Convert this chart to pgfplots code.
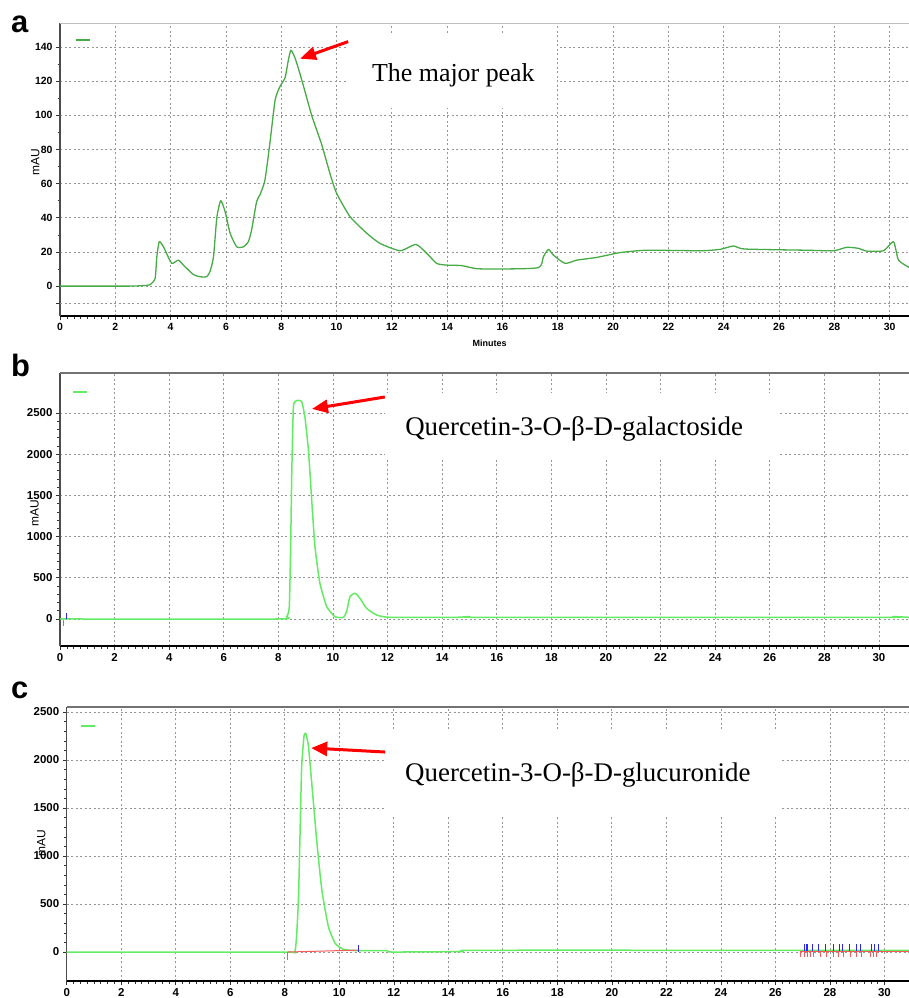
\documentclass[border=0pt]{standalone}
\usepackage{fontspec}
\setmainfont{Liberation Sans}
\newfontfamily\tnr{Liberation Serif}
\usepackage{pgfplots}
\pgfplotsset{compat=1.18}
\usetikzlibrary{arrows.meta}

\definecolor{greenA}{RGB}{70,170,70}
\definecolor{greenB}{RGB}{100,235,100}
\definecolor{gridgray}{RGB}{150,150,150}
\definecolor{intred}{RGB}{245,90,90}
\definecolor{intblue}{RGB}{40,40,245}

\pgfplotsset{
  chrom/.style={
    scale only axis,
    anchor=north west,
    axis x line*=bottom, axis y line*=left,
    x axis line style={black, line width=1.3bp},
    y axis line style={black!70, line width=1.2bp},
    tick align=outside,
    major tick length=4bp, minor tick length=2.5bp,
    every tick/.style={black!80, line width=0.6bp},
    xtick={0,2,...,30}, minor x tick num=7,
    xmin=0,
    grid=major,
    major grid style={gridgray, line width=0.8bp, dash pattern=on 2bp off 2.5bp},
    tick label style={font=\fontsize{10.5}{11}\selectfont\bfseries},
    /pgf/number format/assume math mode=true,
    /pgf/number format/set thousands separator={},
    clip mode=individual,
    legend style={draw=none, fill=none, inner sep=0pt, outer sep=0pt,
                  nodes={inner sep=0pt}, anchor=west},
    legend image code/.code={\draw[#1] (0bp,0bp) -- (14bp,0bp);},
    ylabel style={font=\fontsize{12}{13}\selectfont, anchor=south},
  }
}

\begin{document}
\begin{tikzpicture}
\useasboundingbox (0,0) rectangle (909bp,-998bp);

% ---------------- a ----------------
\begin{axis}[chrom,
  at={(60bp,-23bp)}, width=849bp, height=293bp,
  xmax=30.7, ymin=-17.5, ymax=154,
  ytick={0,20,...,140}, minor y tick num=1,
  extra y ticks={-10}, extra y tick labels={},
  xlabel={Minutes},
  xlabel style={font=\fontsize{9}{10}\selectfont\bfseries,
                at={(axis description cs:0.506,-0.092)}, anchor=center},
  ylabel={mAU},
  ylabel style={at={(axis description cs:-0.02,0.526)}},
  legend style={at={(rel axis cs:0.0177,0.942)}},
]
\addplot[greenA, line width=1.3bp, line join=round, smooth, tension=0.35] coordinates {
(0,0)(2.5,0)(3.0,0.3)(3.25,0.8)(3.44,4.5)(3.50,17)(3.59,26)(3.74,23)
(3.83,20)(4.04,13.3)(4.28,15.2)(4.46,12.3)(4.82,6.8)(5.06,5.5)(5.30,5.5)
(5.42,8.4)(5.55,17)(5.67,40)(5.81,50)(5.97,43.6)(6.15,31)(6.39,23)
(6.63,23)(6.81,26)(6.93,33)(7.11,49.5)(7.23,53.4)(7.41,62)(7.59,83.7)
(7.78,109)(7.96,117)(8.14,122)(8.26,132.5)(8.35,138)(8.50,133.5)
(8.74,120.8)(9.1,100)(9.46,83)(9.76,66)(10.0,54.4)(10.49,40.6)
(11.09,31)(11.57,25)(12.3,20.7)(12.87,24.4)(13.26,19.2)(13.62,13.3)
(13.98,12.3)(14.52,12)(15.07,10.2)(15.91,10)(17.3,10.8)(17.48,17.2)
(17.66,21.5)(17.84,18.2)(18.26,13.3)(18.69,15.2)(19.41,16.8)(20.25,19.6)
(21.22,21)(23.15,20.7)(23.87,21.5)(24.35,23.5)(24.77,21.7)(27.0,21)
(27.97,20.7)(28.45,22.7)(28.87,22.1)(29.17,20.5)(29.78,20.7)(30.14,26)
(30.32,15.2)(30.7,11)
};
\addlegendentry{}
\draw[black!25, line width=0.8bp] (rel axis cs:0,1) -- (rel axis cs:1,1);
\fill[white] (axis cs:10.42,148.4) rectangle (axis cs:17.97,104.4);
\node[anchor=base west, inner sep=0pt, font=\tnr\fontsize{26}{30}\selectfont]
  at (axis cs:11.28,119.6) {The major peak};
\draw[red, line width=3bp, -{Triangle[length=16bp,width=13bp]}]
  (axis cs:10.42,143.1) -- (axis cs:8.68,133.1);
\end{axis}

% ---------------- b ----------------
\begin{axis}[chrom,
  at={(60bp,-373bp)}, width=849bp, height=273bp,
  xmax=31.1, ymin=-328, ymax=2985,
  ytick={0,500,...,2500}, minor y tick num=4,
  tick label style={font=\fontsize{11.5}{12}\selectfont\bfseries},
  ylabel={mAU},
  ylabel style={at={(axis description cs:-0.021,0.487)}},
  legend style={at={(rel axis cs:0.015,0.930)}},
  unbounded coords=jump,
]
\addplot[greenB, line width=1.5bp, line join=round, smooth, tension=0.3] coordinates {
(0,0)(8.0,0)(8.30,28)(8.40,150)(8.45,900)(8.49,1770)(8.55,2577)(8.67,2650)
(8.85,2640)(8.97,2455)(9.10,2050)(9.22,1444)(9.34,877)(9.52,433)
(9.77,150)(10.07,28)(10.38,20)(10.50,90)(10.62,270)(10.81,312)
(10.99,250)(11.23,130)(11.6,48)(12.1,20)(14.5,20)(15.0,30)(15.5,20)
(30.2,20)(30.5,30)(31.1,20)
};
\addlegendentry{}
\addplot[intred, line width=1bp] coordinates {(0.12,-12)(0.12,-85)};
\addplot[intblue, line width=1bp] coordinates {(0.25,0)(0.25,70)};
\draw[black!55, line width=1.6bp] (rel axis cs:0,1) -- (rel axis cs:1,1);
\fill[white] (axis cs:11.9,2743) rectangle (axis cs:26.3,1930);
\node[anchor=base west, inner sep=0pt, font=\tnr\fontsize{27}{30}\selectfont]
  at (axis cs:12.64,2221) {Quercetin-3-O-β-D-galactoside};
\draw[red, line width=3bp, -{Triangle[length=16bp,width=13bp]}]
  (axis cs:11.9,2694) -- (axis cs:9.23,2549);
\end{axis}

% ---------------- c ----------------
\begin{axis}[chrom,
  at={(66.7bp,-707bp)}, width=842.3bp, height=274bp,
  xmax=30.9, ymin=-302, ymax=2552,
  ytick={0,500,...,2500}, minor y tick num=4,
  tick label style={font=\fontsize{11.5}{12}\selectfont\bfseries},
  ylabel={mAU},
  ylabel style={at={(axis description cs:-0.021,0.504)}},
  legend style={at={(rel axis cs:0.016,0.931)}},
  unbounded coords=jump,
]
\addplot[greenB, line width=1.5bp, line join=round, smooth, tension=0.3] coordinates {
(0,0)(7.95,0)(8.38,14)(8.5,540)(8.56,1236)(8.62,1930)(8.71,2260)
(8.78,2270)(8.87,2140)(8.99,1757)(9.17,1167)(9.36,646)(9.60,264)
(9.85,90)(10.15,28)(10.64,14)(11.74,14)(11.93,0)(14.5,5)(15,18)
(27,18)(30.9,18)
};
\addlegendentry{}
% integration baselines and marks
\addplot[intred, line width=1bp] coordinates {(8.11,0)(10.7,20)};
\addplot[intred, line width=1bp] coordinates {(8.11,0)(8.11,-80)};
\addplot[intblue, line width=1bp] coordinates {(10.7,0)(10.7,70)};
\addplot[intred, line width=1bp] coordinates {(26.91,5)(30.9,5)};
\addplot[intblue, line width=0.9bp] coordinates {
(27.05,14)(27.05,83) (nan,nan) (27.12,14)(27.12,83) (nan,nan)
(27.19,14)(27.19,83) (nan,nan) (27.34,14)(27.34,83) (nan,nan)
(27.58,14)(27.58,83) (nan,nan) (27.85,14)(27.85,83) (nan,nan)
(28.11,14)(28.11,83) (nan,nan) (28.35,14)(28.35,83) (nan,nan)
(28.45,14)(28.45,83) (nan,nan) (28.73,14)(28.73,83) (nan,nan)
(28.99,14)(28.99,83) (nan,nan) (29.11,14)(29.11,83) (nan,nan)
(29.54,14)(29.54,83) (nan,nan) (29.63,14)(29.63,83) (nan,nan)
(29.77,14)(29.77,83)
};
\addplot[intred, line width=0.9bp] coordinates {
(26.91,14)(26.91,-49) (nan,nan) (27.05,14)(27.05,-49) (nan,nan)
(27.16,14)(27.16,-49) (nan,nan) (27.28,14)(27.28,-49) (nan,nan)
(27.40,14)(27.40,-49) (nan,nan) (27.64,14)(27.64,-49) (nan,nan)
(27.86,14)(27.86,-49) (nan,nan) (28.11,14)(28.11,-49) (nan,nan)
(28.32,14)(28.32,-49) (nan,nan) (28.48,14)(28.48,-49) (nan,nan)
(28.75,14)(28.75,-49) (nan,nan) (28.99,14)(28.99,-49) (nan,nan)
(29.14,14)(29.14,-49) (nan,nan) (29.50,14)(29.50,-49) (nan,nan)
(29.60,14)(29.60,-49) (nan,nan) (29.72,14)(29.72,-49)
};
\draw[black!55, line width=2bp] (rel axis cs:0,1) -- (rel axis cs:1,1);
\fill[white] (axis cs:11.68,2292) rectangle (axis cs:26.18,1406);
\node[anchor=base west, inner sep=0pt, font=\tnr\fontsize{27}{30}\selectfont]
  at (axis cs:12.41,1774) {Quercetin-3-O-β-D-glucuronide};
\draw[red, line width=3bp, -{Triangle[length=16bp,width=14bp]}]
  (axis cs:11.68,2083) -- (axis cs:8.97,2125);
\end{axis}

% panel letters
\node[anchor=base west, inner sep=0pt, font=\fontsize{31}{32}\selectfont\bfseries] at (11bp,-32bp) {a};
\node[anchor=base west, inner sep=0pt, font=\fontsize{31}{32}\selectfont\bfseries] at (11bp,-376bp) {b};
\node[anchor=base west, inner sep=0pt, font=\fontsize{31}{32}\selectfont\bfseries] at (11bp,-698bp) {c};
\end{tikzpicture}
\end{document}
